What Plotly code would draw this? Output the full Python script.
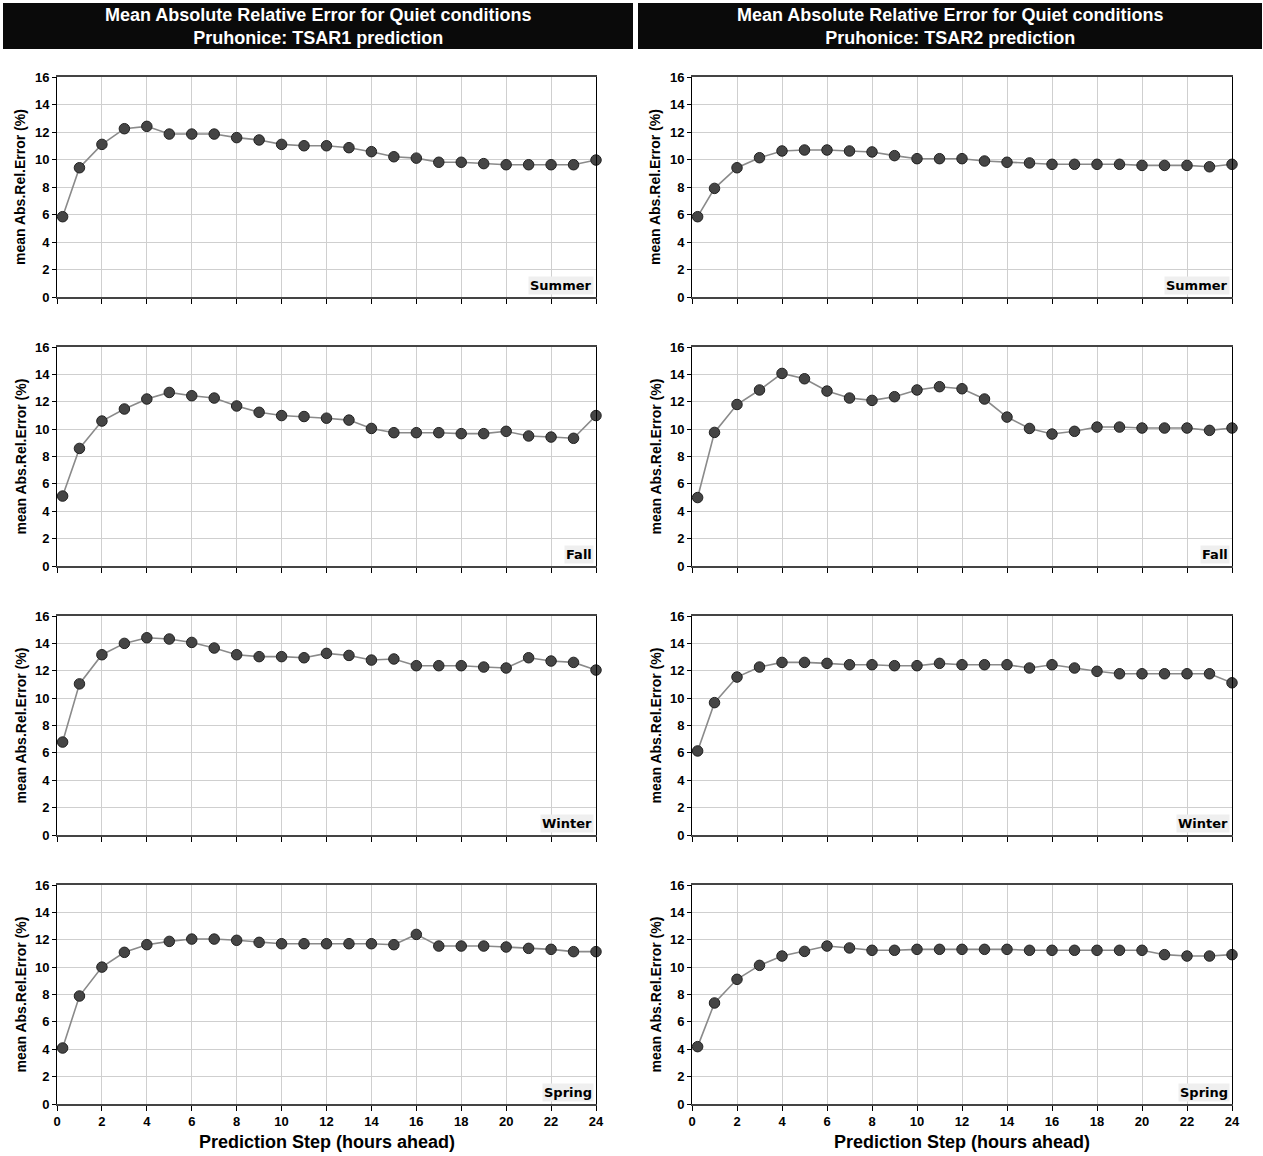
import plotly.graph_objects as go

W, H = 1263, 1156

steps = [0.25] + list(range(1, 25))
seasons = ["Summer", "Fall", "Winter", "Spring"]
titles = ["Mean Absolute Relative Error for Quiet conditions<br>Pruhonice: TSAR1 prediction",
          "Mean Absolute Relative Error for Quiet conditions<br>Pruhonice: TSAR2 prediction"]
y_ticks = [0, 2, 4, 6, 8, 10, 12, 14, 16]
x_ticks = list(range(0, 25, 2))

tsar1_summer = [5.84, 9.4, 11.1, 12.24, 12.41, 11.85, 11.85, 11.85, 11.59, 11.42, 11.1, 11.0, 11.0,
                10.86, 10.57, 10.2, 10.1, 9.8, 9.8, 9.7, 9.62, 9.62, 9.62, 9.62, 9.96]
tsar1_fall = [5.11, 8.59, 10.59, 11.47, 12.2, 12.68, 12.44, 12.27, 11.69, 11.23, 10.99, 10.92, 10.8,
              10.66, 10.05, 9.74, 9.74, 9.74, 9.67, 9.67, 9.84, 9.5, 9.42, 9.33, 10.99]
tsar1_winter = [6.79, 11.04, 13.17, 14.0, 14.41, 14.32, 14.07, 13.66, 13.17, 13.03, 13.03, 12.95, 13.27,
                13.12, 12.78, 12.86, 12.37, 12.37, 12.37, 12.27, 12.2, 12.95, 12.71, 12.61, 12.05]
tsar1_spring = [4.09, 7.89, 10.0, 11.08, 11.64, 11.88, 12.05, 12.05, 11.96, 11.81, 11.71, 11.71, 11.71,
                11.71, 11.71, 11.64, 12.39, 11.54, 11.54, 11.54, 11.47, 11.37, 11.3, 11.13, 11.13]

tsar2_summer = [5.84, 7.9, 9.4, 10.13, 10.62, 10.69, 10.69, 10.62, 10.55, 10.28, 10.06, 10.06, 10.06,
                9.89, 9.8, 9.75, 9.65, 9.65, 9.65, 9.65, 9.57, 9.57, 9.57, 9.47, 9.65]
tsar2_fall = [5.0, 9.76, 11.8, 12.86, 14.07, 13.68, 12.78, 12.27, 12.1, 12.37, 12.86, 13.1, 12.95,
              12.2, 10.88, 10.05, 9.64, 9.84, 10.15, 10.15, 10.08, 10.08, 10.08, 9.91, 10.08]
tsar2_winter = [6.14, 9.67, 11.54, 12.27, 12.61, 12.61, 12.54, 12.44, 12.44, 12.37, 12.37, 12.54, 12.44,
                12.44, 12.44, 12.2, 12.44, 12.2, 11.96, 11.78, 11.78, 11.78, 11.78, 11.78, 11.12]
tsar2_spring = [4.19, 7.38, 9.11, 10.13, 10.81, 11.15, 11.54, 11.4, 11.23, 11.23, 11.3, 11.3, 11.3,
                11.3, 11.3, 11.23, 11.23, 11.23, 11.23, 11.23, 11.23, 10.91, 10.81, 10.81, 10.91]

series = [[tsar1_summer, tsar1_fall, tsar1_winter, tsar1_spring],
          [tsar2_summer, tsar2_fall, tsar2_winter, tsar2_spring]]

row_top = [77, 347, 616, 885]
row_bot = [297, 566, 835, 1104]
col_left = [57, 692]
col_right = [596, 1232]

NARROW = "Liberation Sans Narrow, Arial Narrow, Liberation Sans, Arial"
BOLD = "Liberation Sans, Arial, sans-serif"
TICKFONT = dict(family=NARROW, size=13, color="#000", weight="bold")

fig = go.Figure()
layout = dict(width=W, height=H, margin=dict(l=0, r=0, t=0, b=0, pad=0, autoexpand=False),
              paper_bgcolor="white", plot_bgcolor="white", showlegend=False)
annotations = []
shapes = []

for c in range(2):
    for r in range(4):
        k = r * 2 + c + 1
        xa = "x" if k == 1 else f"x{k}"
        ya = "y" if k == 1 else f"y{k}"
        fig.add_trace(go.Scatter(
            x=steps, y=series[c][r], mode="lines+markers", xaxis=xa, yaxis=ya,
            line=dict(color="#8a8a8a", width=1.6),
            marker=dict(size=10.5, color="#454545", line=dict(color="#222", width=1)),
            cliponaxis=False, hoverinfo="x+y"))
        bottom = (r == 3)
        layout["xaxis" if k == 1 else f"xaxis{k}"] = dict(
            domain=[col_left[c] / W, col_right[c] / W], anchor=ya, range=[0, 24],
            tickvals=x_ticks, showticklabels=bottom, ticks="outside", ticklen=5,
            tickcolor="#000", tickfont=TICKFONT, showgrid=True, gridcolor="#cfcfcf",
            gridwidth=1, showline=True, linecolor="#444", linewidth=1.5, mirror=True,
            zeroline=False, fixedrange=True, automargin=False)
        layout["yaxis" if k == 1 else f"yaxis{k}"] = dict(
            domain=[1 - row_bot[r] / H, 1 - row_top[r] / H], anchor=xa, range=[0, 16],
            tickvals=y_ticks, ticks="outside", ticklen=4, tickcolor="#000",
            tickfont=TICKFONT, showgrid=True, gridcolor="#cfcfcf", gridwidth=1,
            showline=True, linecolor="#000", linewidth=1, mirror=True,
            zeroline=False, fixedrange=True, automargin=False)
        annotations.append(dict(
            text="<b>mean Abs.Rel.Error (%)</b>", textangle=-90,
            x=(col_left[c] - 37) / W, y=1 - (row_top[r] + row_bot[r]) / 2 / H,
            xref="paper", yref="paper", showarrow=False,
            font=dict(family=BOLD, size=14, color="#000"), xanchor="center", yanchor="middle"))
        annotations.append(dict(
            text=f"<b>{seasons[r]}</b>", x=24, y=0, xref=xa, yref=ya,
            xanchor="right", yanchor="bottom", showarrow=False, bgcolor="#efefef",
            borderpad=1, xshift=-2, yshift=2,
            font=dict(family="DejaVu Sans, Liberation Sans", size=13, color="#000")))
    annotations.append(dict(
        text="<b>Prediction Step (hours ahead)</b>",
        x=(col_left[c] + col_right[c]) / 2 / W, y=1 - 1142 / H,
        xref="paper", yref="paper", showarrow=False, xanchor="center", yanchor="middle",
        font=dict(family=BOLD, size=18, color="#000")))

bars = [(3, 633), (638, 1262)]
for c, (x0, x1) in enumerate(bars):
    shapes.append(dict(type="rect", xref="paper", yref="paper",
                       x0=x0 / W, x1=x1 / W, y0=1 - 49 / H, y1=1 - 3 / H,
                       fillcolor="#0a0a0a", line=dict(width=0), layer="below"))
    annotations.append(dict(text=f"<b>{titles[c]}</b>", x=(x0 + x1) / 2 / W, y=1 - 27 / H,
                            xref="paper", yref="paper", showarrow=False,
                            xanchor="center", yanchor="middle",
                            font=dict(family=BOLD, size=18, color="white")))

layout["annotations"] = annotations
layout["shapes"] = shapes
fig.update_layout(**layout)
fig.write_html("out.html", config={"displayModeBar": False},
               post_script="document.body.style.margin='0';document.body.style.overflow='hidden';")
